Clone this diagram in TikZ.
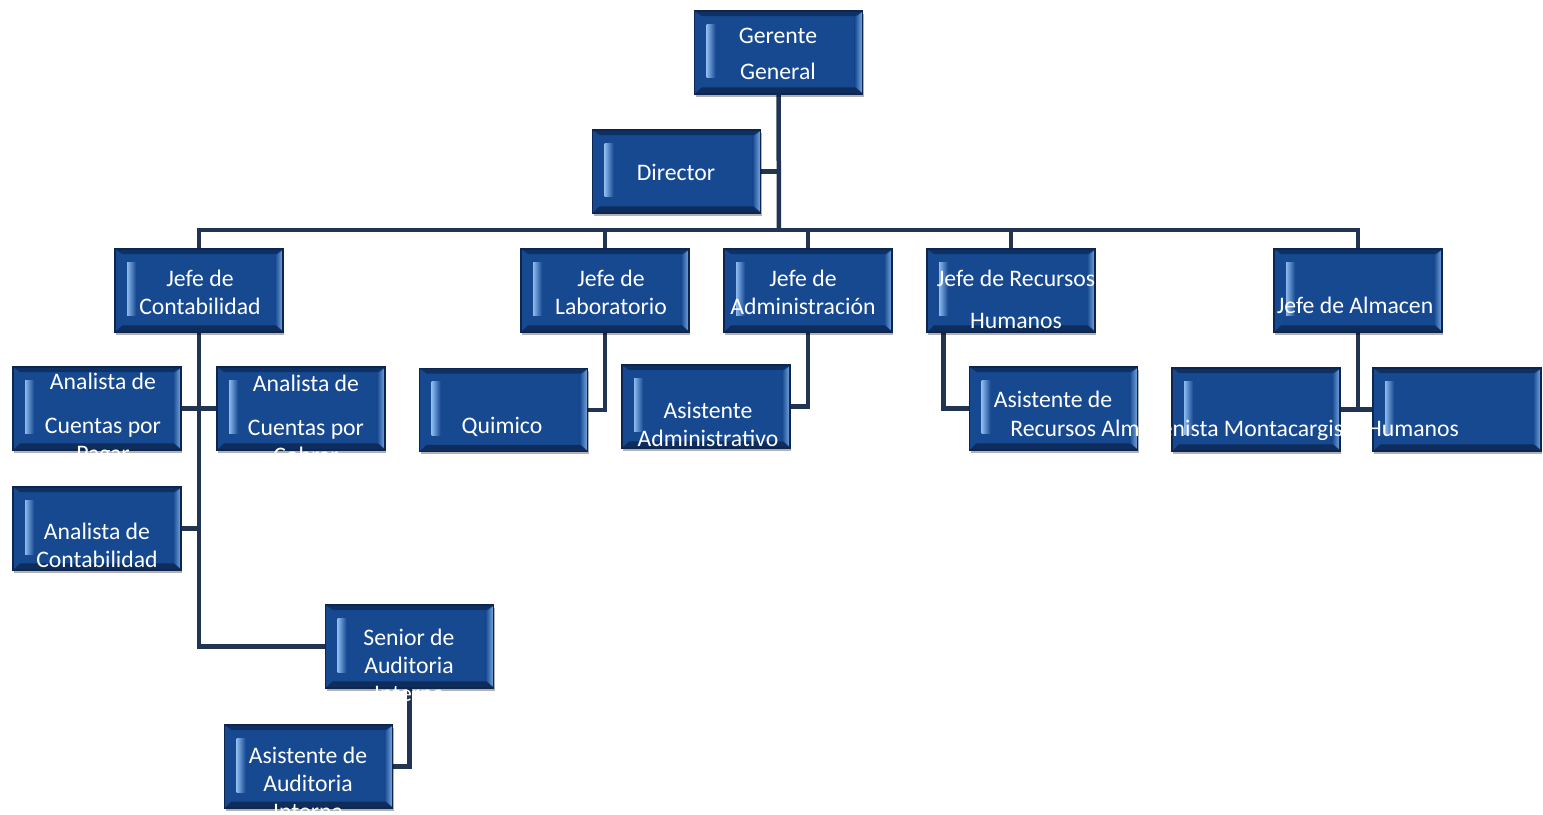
\documentclass[tikz,border=0pt]{standalone}
\usepackage{fontspec}
\setmainfont{Carlito}
\usepackage{tikz}
\usetikzlibrary{calc, shadows}
\usepackage{xcolor}
\definecolor{cajaFondo}{RGB}{23,73,145}
\definecolor{cajaBordo}{RGB}{12,38,80}
\definecolor{cajaLuce}{RGB}{140,185,238}
\definecolor{colLinea}{RGB}{33,52,82}
\pgfdeclarelayer{sfondo}
\pgfsetlayers{sfondo,main}
\tikzset{
  caja/.style={rectangle, minimum width=3.36cm, minimum height=1.66cm, inner sep=0pt,
    fill=cajaFondo, draw=cajaBordo, line width=0.8pt,
    drop shadow={shadow xshift=0.8pt, shadow yshift=-1.6pt, opacity=0.3, fill=black},
    path picture={
      % bordo alto e basso
      \fill[cajaBordo!70!cajaFondo] (path picture bounding box.north west) -- (path picture bounding box.north east)
        -- ([xshift=-0.14cm,yshift=-0.1cm]path picture bounding box.north east) -- ([xshift=0.14cm,yshift=-0.1cm]path picture bounding box.north west) -- cycle;
      \fill[cajaBordo!80!cajaFondo] (path picture bounding box.south west) -- (path picture bounding box.south east)
        -- ([xshift=-0.14cm,yshift=0.13cm]path picture bounding box.south east) -- ([xshift=0.14cm,yshift=0.13cm]path picture bounding box.south west) -- cycle;
      % bisello destro
      \shade[left color=cajaFondo, right color=cajaLuce!85!cajaFondo] ([xshift=-0.16cm,yshift=-0.14cm]path picture bounding box.north east) -- ([yshift=-0.02cm]path picture bounding box.north east)
        -- ([yshift=0.02cm]path picture bounding box.south east) -- ([xshift=-0.16cm,yshift=0.16cm]path picture bounding box.south east) -- cycle;
      % striscia sinistra
      \shade[left color=cajaLuce, right color=cajaFondo] ([xshift=0.24cm,yshift=-0.26cm]path picture bounding box.north west)
        rectangle ([xshift=0.42cm,yshift=0.32cm]path picture bounding box.south west);
    }},
  testo/.style={text=white, font=\fontsize{13.5}{16}\selectfont, align=center, inner sep=0pt},
  linea/.style={draw=colLinea, line width=0.09cm, line join=miter},
}

\begin{document}
\begin{tikzpicture}[x=0.02cm, y=-0.02cm]
    % Parametri
    \pgfmathsetmacro{\ybus}{230}
    \pgfmathsetmacro{\yjefe}{290.5}

    \useasboundingbox (0,0) rectangle (1543,815);

    % Riquadri
    \node[caja] (gg) at (778.5,52.5) {};
    \node[caja] (dir) at (676.5,171.5) {};
    \node[caja] (jc) at (199,\yjefe) {};
    \node[caja] (jl) at (605,\yjefe) {};
    \node[caja] (ja) at (808,\yjefe) {};
    \node[caja] (jrh) at (1011,\yjefe) {};
    \node[caja] (jalm) at (1358,\yjefe) {};
    \node[caja] (acp) at (97,408.5) {};
    \node[caja] (acc) at (301,408.5) {};
    \node[caja] (acont) at (97,528.5) {};
    \node[caja] (sai) at (409.5,646.5) {};
    \node[caja] (aai) at (308.5,766.5) {};
    \node[caja] (qui) at (503.5,410) {};
    \node[caja] (aadm) at (706,406.5) {};
    \node[caja] (arh) at (1053.5,408.5) {};
    \node[caja] (alm1) at (1256,409.5) {};
    \node[caja] (alm2) at (1457,409.5) {};

    % Testi
    \node[testo] (t-gg) at (778,54) {Gerente\\[4.4pt]General};
    \node[testo] (t-dir) at (676,172) {Director};
    \node[testo] (t-jc) at (200,292) {Jefe de\\Contabilidad};
    \node[testo] (t-jl) at (611,292) {Jefe de\\Laboratorio};
    \node[testo] (t-ja) at (803,292) {Jefe de\\Administración};
    \node[testo] (t-jrh) at (1016,299) {Jefe de Recursos\\[7.8pt]Humanos};
    \node[testo] (t-jalm) at (1355,305) {Jefe de Almacen};
    \node[testo] (t-acp) at (103,419.5) {Analista de\\[9pt]Cuentas por\\Pagar};
    \node[testo] (t-acc) at (306,419.5) {Analista de\\[9pt]Cuentas por\\Cobrar};
    \node[testo] (t-acont) at (97,545.5) {Analista de\\Contabilidad};
    \node[testo] (t-sai) at (409,665) {Senior de\\Auditoria\\Interna};
    \node[testo] (t-aai) at (308,783.5) {Asistente de\\Auditoria\\Interna};
    \node[testo] (t-qui) at (502,427) {Quimico};
    \node[testo] (t-aadm) at (708,424.5) {Asistente\\Administrativo};
    \node[testo] (t-arh) at (1053,399) {Asistente de};
    \node[testo, anchor=west] (t-arh2) at (1010,430) {Recursos Almacenista Montacargista Humanos};

    % Collegamenti
    \begin{pgfonlayer}{sfondo}
    \coordinate (bus) at (779,\ybus);
    \draw[linea] (gg.south) -- (bus);
    \draw[linea] (dir.east) -- (dir.east -| bus);
    \draw[linea, line cap=rect] (jc.north |- bus) -- (jalm.north |- bus);
    \foreach \j in {jc,jl,ja,jrh,jalm}
        \draw[linea] (\j.north) -- (\j.north |- bus);
    % ramo contabilita
    \draw[linea] (jc.south) |- (sai.west);
    \draw[linea] (acp.east) -- (acc.west);
    \draw[linea] (acont.east) -- (acont.east -| jc.south);
    \draw[linea] (sai.south) |- (aai.east);
    % altri rami
    \draw[linea] (jl.south) |- (qui.east);
    \draw[linea] (ja.south) |- (aadm.east);
    \draw[linea] ([xshift=0.34cm]jrh.south west) |- (arh.west);
    \draw[linea] (jalm.south) -- (jalm.south |- alm1.east);
    \draw[linea] (alm1.east) -- (alm2.west);
    \end{pgfonlayer}
\end{tikzpicture}
\end{document}
